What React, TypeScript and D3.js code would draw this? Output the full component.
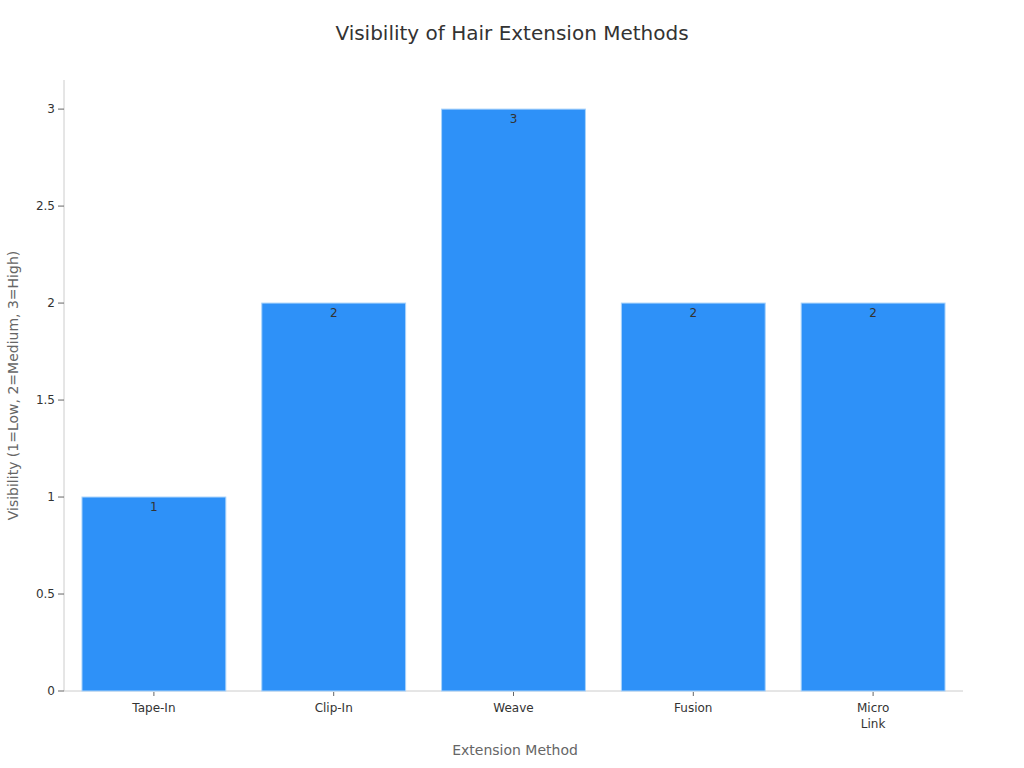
import React from "react";
import * as d3 from "d3";

const categories = ["Tape-In", "Clip-In", "Weave", "Fusion", "Micro Link"];
const categoryLines = [["Tape-In"], ["Clip-In"], ["Weave"], ["Fusion"], ["Micro", "Link"]];
const visibility = [1, 2, 3, 2, 2];
const yTicks = [0, 0.5, 1, 1.5, 2, 2.5, 3];

const W = 1024;
const H = 768;
const M = { left: 64, right: 61, top: 80, bottom: 77 };
const FONT = "DejaVu Sans, sans-serif";

export default function App() {
  const x = d3
    .scaleBand<string>()
    .domain(categories)
    .range([M.left, W - M.right])
    .paddingInner(0.2)
    .paddingOuter(0.1);
  const y = d3.scaleLinear().domain([0, 3.15]).range([H - M.bottom, M.top]);
  const y0 = y(0);

  return (
    <svg
      width={W}
      height={H}
      style={{ position: "absolute", left: 0, top: 0, background: "#fff" }}
      fontFamily={FONT}
    >
      <text x={512} y={40} textAnchor="middle" fontSize={20} fill="#333">
        Visibility of Hair Extension Methods
      </text>

      {/* axes lines */}
      <line x1={M.left} x2={M.left} y1={M.top} y2={y0} stroke="#ccc" strokeWidth={1} />
      <line x1={M.left} x2={W - M.right} y1={y0} y2={y0} stroke="#ccc" strokeWidth={1} />

      {yTicks.map((t) => (
        <g key={t} transform={`translate(0,${y(t)})`}>
          <line x1={M.left - 6} x2={M.left} stroke="#666" strokeWidth={1} />
          <text x={M.left - 9} dy="0.35em" textAnchor="end" fontSize={12} fill="#333">
            {t}
          </text>
        </g>
      ))}

      {categories.map((c, i) => {
        const cx = (x(c) as number) + x.bandwidth() / 2;
        return (
          <g key={c}>
            <rect
              x={x(c)}
              y={y(visibility[i])}
              width={x.bandwidth()}
              height={y0 - y(visibility[i])}
              fill="#2E91F8"
              stroke="#A9D3FB"
              strokeWidth={1}
            />
            <text x={cx} y={y(visibility[i]) + 14} textAnchor="middle" fontSize={12} fill="#333">
              {visibility[i]}
            </text>
            <line x1={cx} x2={cx} y1={y0 + 1} y2={y0 + 5} stroke="#666" />
            <text x={cx} y={y0 + 21} textAnchor="middle" fontSize={12} fill="#333">
              {categoryLines[i].map((l, j) => (
                <tspan key={j} x={cx} dy={j === 0 ? 0 : 16}>
                  {l}
                </tspan>
              ))}
            </text>
          </g>
        );
      })}

      <text x={515} y={755} textAnchor="middle" fontSize={14} fill="#666">
        Extension Method
      </text>
      <text
        transform={`translate(18,${(M.top + y0) / 2 + 0}) rotate(-90)`}
        textAnchor="middle"
        fontSize={14}
        fill="#666"
      >
        Visibility (1=Low, 2=Medium, 3=High)
      </text>
    </svg>
  );
}
